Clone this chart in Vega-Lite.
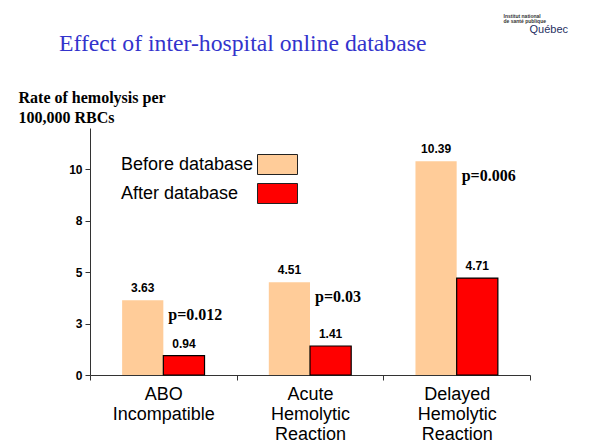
{
  "$schema": "https://vega.github.io/schema/vega-lite/v6.json",
  "width": 440,
  "height": 247,
  "autosize": {"type": "none"},
  "padding": {"left": 90, "top": 128, "right": 64, "bottom": 69},
  "background": "white",
  "title": {
    "text": "Effect of inter-hospital online database",
    "anchor": "start",
    "frame": "group",
    "dx": -31,
    "dy": 72,
    "font": "Liberation Serif",
    "fontSize": 23.7,
    "fontWeight": "normal",
    "color": "#3333CC",
    "baseline": "alphabetic",
    "offset": 10
  },
  "data": {
    "values": [
      {"category": "ABO|Incompatible", "period": "Before database", "value": 3.63, "p": "p=0.012"},
      {"category": "ABO|Incompatible", "period": "After database", "value": 0.94},
      {"category": "Acute|Hemolytic|Reaction", "period": "Before database", "value": 4.51, "p": "p=0.03"},
      {"category": "Acute|Hemolytic|Reaction", "period": "After database", "value": 1.41},
      {"category": "Delayed|Hemolytic|Reaction", "period": "Before database", "value": 10.39, "p": "p=0.006"},
      {"category": "Delayed|Hemolytic|Reaction", "period": "After database", "value": 4.71}
    ]
  },
  "resolve": {"axis": {"y": "independent", "x": "independent"}},
  "layer": [
    {
      "mark": {"type": "bar", "strokeWidth": 1.2},
      "encoding": {
        "x": {
          "field": "category",
          "type": "nominal",
          "sort": null,
          "scale": {"paddingInner": 0, "paddingOuter": 0},
          "axis": {
            "title": null,
            "labelExpr": "split(datum.label, '|')",
            "labelAngle": 0,
            "labelFont": "Liberation Sans",
            "labelFontSize": 18,
            "labelColor": "#000000",
            "labelLineHeight": 20,
            "labelBaseline": "top",
            "labelPadding": 5,
            "tickBand": "extent",
            "tickSize": 5,
            "tickColor": "#333333",
            "domainColor": "#333333"
          }
        },
        "xOffset": {
          "field": "period",
          "type": "nominal",
          "sort": ["Before database", "After database"],
          "scale": {"paddingInner": 0, "paddingOuter": 0.78}
        },
        "y": {
          "field": "value",
          "type": "quantitative",
          "scale": {"domain": [0, 12], "nice": false},
          "axis": {
            "values": [0, 2.5, 5, 7.5, 10],
            "format": ".0f",
            "grid": false,
            "title": ["Rate of hemolysis per", "100,000 RBCs"],
            "titleAngle": 0,
            "titleAlign": "left",
            "titleBaseline": "alphabetic",
            "titleX": -72,
            "titleY": -26,
            "titleFont": "Liberation Serif",
            "titleFontSize": 16,
            "titleFontWeight": "bold",
            "titleColor": "#000000",
            "titleLineHeight": 20,
            "labelFont": "Liberation Sans",
            "labelFontSize": 12,
            "labelFontWeight": "bold",
            "labelColor": "#000000",
            "labelPadding": 3,
            "tickSize": 5,
            "tickColor": "#333333",
            "domainColor": "#333333"
          }
        },
        "color": {
          "field": "period",
          "type": "nominal",
          "scale": {"domain": ["Before database", "After database"], "range": ["#FFCC99", "#FF0000"]},
          "legend": {
            "orient": "none",
            "legendX": 177,
            "legendY": 26,
            "title": null,
            "padding": 0,
            "symbolType": "M-2,-1H2V1H-2Z",
            "symbolSize": 400,
            "symbolStrokeColor": "#000000",
            "symbolStrokeWidth": 1,
            "symbolOpacity": 1,
            "labelFont": "Liberation Sans",
            "labelFontSize": 18,
            "labelColor": "#000000",
            "labelAlign": "left",
            "labelOffset": -167,
            "labelLimit": 0,
            "rowPadding": 4,
            "encode": {
              "symbols": {
                "update": {
                  "fill": {"signal": "datum.value === 'After database' ? '#FF3300' : '#FFCC99'"},
                  "stroke": {"value": "#222222"},
                  "strokeWidth": {"value": 1}
                }
              }
            }
          }
        },
        "stroke": {
          "condition": {"test": "datum.period === 'After database'", "value": "#000000"},
          "value": "transparent"
        }
      }
    },
    {
      "mark": {"type": "text", "font": "Liberation Sans", "fontSize": 12, "fontWeight": "bold", "baseline": "alphabetic", "dy": -8, "color": "#000000"},
      "encoding": {
        "x": {"field": "category", "type": "nominal", "sort": null, "axis": null},
        "xOffset": {
          "field": "period",
          "type": "nominal",
          "sort": ["Before database", "After database"],
          "scale": {"paddingInner": 0, "paddingOuter": 0.78}
        },
        "y": {"field": "value", "type": "quantitative", "axis": null},
        "text": {"field": "value", "type": "quantitative", "format": ".2f"}
      }
    },
    {
      "transform": [{"filter": "datum.p"}],
      "mark": {"type": "text", "font": "Liberation Serif", "fontSize": 16, "fontWeight": "bold", "align": "left", "baseline": "alphabetic", "dx": 5, "dy": 20, "color": "#000000"},
      "encoding": {
        "x": {
          "field": "category",
          "type": "nominal",
          "sort": null,
          "axis": {
            "orient": "top",
            "labels": false,
            "ticks": false,
            "domain": false,
            "grid": false,
            "title": ["Institut national", "de santé publique"],
            "titleAngle": 0,
            "titleAlign": "left",
            "titleBaseline": "alphabetic",
            "titleX": 413,
            "titleY": -111,
            "titleFont": "Liberation Sans",
            "titleFontSize": 5,
            "titleFontWeight": "bold",
            "titleLineHeight": 5,
            "titleColor": "#333333"
          }
        },
        "y": {
          "field": "value",
          "type": "quantitative",
          "axis": {
            "orient": "right",
            "labels": false,
            "ticks": false,
            "domain": false,
            "grid": false,
            "title": "Québec",
            "titleAngle": 0,
            "titleAlign": "left",
            "titleBaseline": "alphabetic",
            "titleX": -1,
            "titleY": -96,
            "titleFont": "Liberation Sans",
            "titleFontSize": 11,
            "titleFontWeight": "normal",
            "titleColor": "#1F2F5F"
          }
        },
        "text": {"field": "p", "type": "nominal"}
      }
    }
  ],
  "config": {"view": {"stroke": null}}
}
